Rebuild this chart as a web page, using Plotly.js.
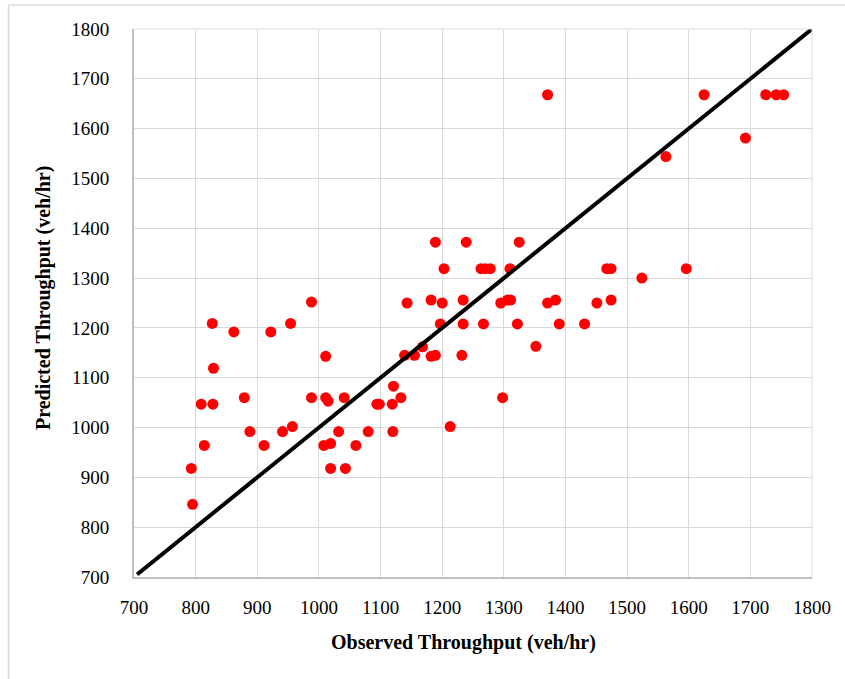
<!DOCTYPE html>
<html>
<head>
<meta charset="utf-8">
<script src="https://cdn.plot.ly/plotly-3.0.1.min.js"></script>
<style>
  html, body { margin: 0; padding: 0; background: #ffffff; }
  #chart { width: 845px; height: 679px; }
</style>
</head>
<body>
<div id="chart"></div>
<script>
// Observed vs predicted lane throughput (veh/hr)
const observed = [
  795, 793, 814, 809, 828, 829, 827, 862, 879, 888,
  911, 922, 941, 954, 957, 988, 988, 1011, 1011, 1015,
  1008, 1019, 1019, 1032, 1041, 1043, 1060, 1080, 1094, 1098,
  1119, 1120, 1121, 1133, 1139, 1143, 1155, 1168, 1182, 1189,
  1182, 1189, 1197, 1200, 1203, 1213, 1232, 1234, 1234, 1239,
  1263, 1270, 1278, 1267, 1295, 1298, 1306, 1311, 1310, 1322,
  1325, 1352, 1371, 1371, 1384, 1390, 1431, 1451, 1467, 1474,
  1474, 1524, 1563, 1596, 1625, 1692, 1725, 1742, 1754
];
const predicted = [
  846, 918, 964, 1047, 1047, 1119, 1209, 1192, 1060, 992,
  964, 1192, 992, 1209, 1002, 1252, 1060, 1143, 1060, 1053,
  964, 968, 918, 992, 1060, 918, 964, 992, 1047, 1047,
  1047, 992, 1083, 1060, 1145, 1250, 1145, 1162, 1143, 1145,
  1256, 1372, 1208, 1250, 1319, 1002, 1145, 1256, 1208, 1372,
  1319, 1319, 1319, 1208, 1250, 1060, 1256, 1256, 1319, 1208,
  1372, 1163, 1250, 1668, 1256, 1208, 1208, 1250, 1319, 1319,
  1256, 1300, 1544, 1319, 1668, 1581, 1668, 1668, 1668
];
// Line of perfect agreement (predicted = observed)
const equalityLine = [705, 1800];

const xTitle = "Observed Throughput (veh/hr)";
const yTitle = "Predicted Throughput (veh/hr)";

const serif = "Liberation Serif, Times New Roman, serif";
const gridColor = "#d9d9d9";
const axisColor = "#bfbfbf";

const traces = [
  {
    x: observed,
    y: predicted,
    type: "scatter",
    mode: "markers",
    marker: { color: "#ff0000", size: 11, line: { width: 0 } },
    showlegend: false,
    hoverinfo: "x+y"
  },
  {
    x: equalityLine,
    y: equalityLine,
    type: "scatter",
    mode: "lines",
    line: { color: "#000000", width: 4 },
    showlegend: false,
    hoverinfo: "skip"
  }
];

const axisCommon = {
  range: [700, 1800],
  dtick: 100,
  tick0: 700,
  showgrid: true,
  gridcolor: gridColor,
  gridwidth: 1,
  zeroline: false,
  showline: true,
  linecolor: axisColor,
  linewidth: 2,
  ticks: "",
  tickfont: { family: serif, size: 19, color: "#000000" },
  fixedrange: true
};

const layout = {
  width: 845,
  height: 679,
  margin: { l: 133.5, r: 33, t: 29, b: 102, pad: 0 },
  paper_bgcolor: "#ffffff",
  plot_bgcolor: "#ffffff",
  font: { family: serif },
  xaxis: Object.assign({}, axisCommon, { ticklabelstandoff: 12 }),
  yaxis: Object.assign({}, axisCommon, { ticklabelstandoff: 19 }),
  annotations: [
    {
      text: "<b>" + xTitle + "</b>",
      xref: "paper", yref: "paper",
      x: 0.4856, y: -0.1204,
      xanchor: "center", yanchor: "middle",
      showarrow: false,
      font: { family: serif, size: 20, color: "#000000" }
    },
    {
      text: "<b>" + yTitle + "</b>",
      xref: "paper", yref: "paper",
      x: -0.1334, y: 0.5082,
      xanchor: "center", yanchor: "middle",
      textangle: -90,
      showarrow: false,
      font: { family: serif, size: 20, color: "#000000" }
    }
  ],
  shapes: [
    // top and right frame gridlines of the plot area
    { type: "line", xref: "paper", yref: "paper", x0: 0, x1: 1, y0: 1, y1: 1,
      line: { color: gridColor, width: 1 } },
    { type: "line", xref: "paper", yref: "paper", x0: 1, x1: 1, y0: 0, y1: 1,
      line: { color: gridColor, width: 1 } },
    // outer chart border (left and top edges)
    { type: "line", xref: "paper", yref: "paper",
      x0: -0.1851, x1: -0.1851, y0: -0.2, y1: 1.0438,
      line: { color: gridColor, width: 1.5 } },
    { type: "line", xref: "paper", yref: "paper",
      x0: -0.1851, x1: 1.1, y0: 1.0438, y1: 1.0438,
      line: { color: gridColor, width: 1.5 } }
  ],
  showlegend: false
};

Plotly.newPlot("chart", traces, layout, { displayModeBar: false, staticPlot: true });
</script>
</body>
</html>
